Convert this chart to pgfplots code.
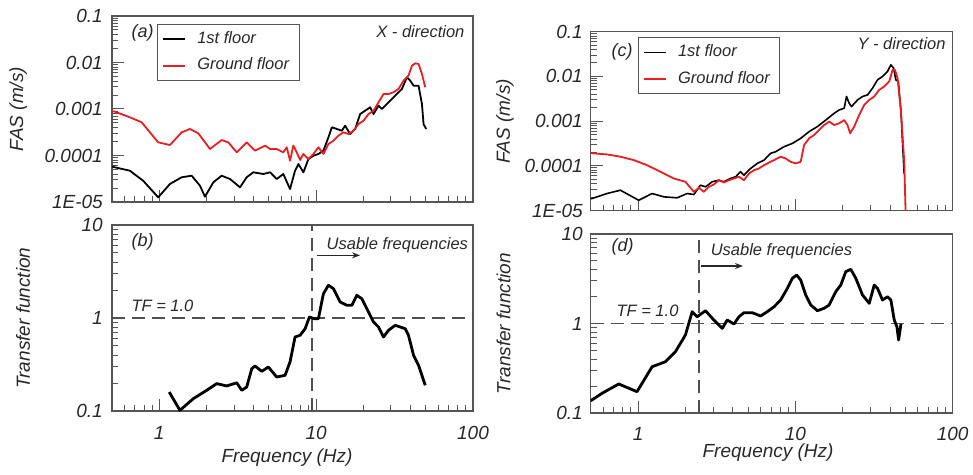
\documentclass[border=0pt]{standalone}
\usepackage{fontspec}
\setmainfont{Liberation Sans}
\usepackage{pgfplots}
\pgfplotsset{compat=1.18}
\usetikzlibrary{arrows.meta}
\definecolor{redline}{RGB}{232,30,36}
\definecolor{framegray}{RGB}{85,85,85}
\definecolor{dashgray}{RGB}{80,80,80}
\definecolor{txt}{RGB}{40,40,40}
\newcommand{\tlfont}{\fontsize{19}{22}\selectfont\itshape}
\newcommand{\anfont}{\fontsize{16.5}{19}\selectfont\itshape}
\tikzset{
  fasline/.style={line width=1.8pt, line join=round},
  tfline/.style={black, line width=2.8pt, line join=round},
  dashl/.style={dashgray, line width=1.8pt, dash pattern=on 13pt off 7pt},
}
\pgfplotsset{
  every axis/.append style={
    scale only axis,
    xmin=0.5, xmax=100,
    tick align=inside, xtick pos=left, ytick pos=left,
    major tick length=12pt, minor tick length=6pt,
    axis line style={framegray, line width=1.2pt},
    tick style={framegray, line width=1pt},
    tick label style={font=\tlfont, text=txt},
    xtick={1,10,100},
    minor xtick={0.5,0.6,0.7,0.8,0.9,2,3,4,5,6,7,8,9,20,30,40,50,60,70,80,90},
    legend style={draw=framegray, line width=1pt, font=\anfont, text=txt,
      inner xsep=5pt, inner ysep=5pt, row sep=7pt, column sep=6pt,
      nodes={text height=12pt, text depth=3.5pt, inner xsep=5pt, inner ysep=2pt}},
    legend cell align=left,
  },
  legend image code/.code={\draw[#1] (0pt,0pt) -- (22pt,0pt);},
}
\begin{document}
\begin{tikzpicture}
\path[use as bounding box] (0pt,0pt) rectangle (973pt,474pt);
% (a)
\begin{loglogaxis}[at={(112pt,272pt)}, anchor=south west, width=361pt, height=186pt,
  ymin=1e-5, ymax=0.1,
  ytick={1e-5,1e-4,1e-3,1e-2,1e-1},
  yticklabels={1E-05,0.0001,0.001,0.01,0.1},
  minor ytick={2e-5,3e-5,4e-5,5e-5,6e-5,7e-5,8e-5,9e-5,2e-4,3e-4,4e-4,5e-4,6e-4,7e-4,8e-4,9e-4,2e-3,3e-3,4e-3,5e-3,6e-3,7e-3,8e-3,9e-3,2e-2,3e-2,4e-2,5e-2,6e-2,7e-2,8e-2,9e-2},
  xticklabels={,,},
  ylabel={FAS (m/s)},
  yticklabel style={xshift=-5.7pt},
  every axis y label/.style={at={(axis description cs:-0.26,0.5)}, rotate=90, anchor=center, font=\tlfont, text=txt},
  legend style={at={(0.1247,0.957)}, anchor=north west}]
\addplot[fasline, black] coordinates {(0.5,5.8e-5) (0.5215,5.57e-5) (0.650,4.71e-5) (0.790,2.87e-5) (0.985,1.26e-5) (1.170,2.44e-5) (1.390,3.40e-5) (1.61,3.68e-5) (1.819,2.24e-5) (1.957,1.30e-5) (2.212,2.65e-5) (2.50,3.68e-5) (2.826,3.12e-5) (3.273,2.07e-5) (3.61,3.40e-5) (3.98,4.35e-5) (4.61,4.00e-5) (5.09,4.35e-5) (5.61,3.12e-5) (6.18,4.00e-5) (6.82,1.90e-5) (7.34,4.71e-5) (7.71,6.56e-5) (8.30,4.35e-5) (8.93,8.4e-5) (9.61,9.9e-5) (10.35,1.08e-4) (11.13,1.27e-4) (11.98,2.46e-4) (12.6,4.04e-4) (13.55,3.72e-4) (14.59,3.41e-4) (15.31,4.37e-4) (16.48,2.90e-4) (17.74,3.72e-4) (19.09,7.80e-4) (20.55,9.19e-4) (22.12,1.09e-3) (23.22,7.80e-4) (24.99,1.18e-3) (26.26,1.0e-3) (28.26,1.28e-3) (30.41,1.64e-3) (32.73,2.10e-3) (35.23,2.69e-3) (37.92,4.81e-3) (39.8,4.06e-3) (41.8,3.17e-3) (44.97,3.17e-3) (47.27,1.28e-3) (48.4,4.75e-4) (50.3,3.72e-4)};
\addlegendentry{1st floor}
\addplot[fasline, redline] coordinates {(0.5,9.0e-4) (0.5215,8.75e-4) (0.650,6.64e-4) (0.772,5.18e-4) (0.985,1.92e-4) (1.170,1.68e-4) (1.390,3.15e-4) (1.570,3.72e-4) (1.774,3.00e-4) (2.107,1.38e-4) (2.50,2.15e-4) (2.755,1.92e-4) (3.119,1.17e-4) (3.61,1.92e-4) (4.08,1.27e-4) (4.73,1.63e-4) (5.09,1.38e-4) (5.61,1.38e-4) (6.18,1.17e-4) (6.50,1.50e-4) (6.82,7.73e-5) (7.16,1.63e-4) (7.56,1.13e-4) (7.91,8.0e-5) (8.30,1.08e-4) (8.93,8.4e-5) (9.61,1.08e-4) (10.35,1.50e-4) (11.13,1.08e-4) (11.98,1.77e-4) (12.89,2.08e-4) (13.87,2.67e-4) (14.93,3.15e-4) (16.07,2.90e-4) (17.30,3.41e-4) (18.62,4.75e-4) (20.04,5.60e-4) (21.57,7.80e-4) (23.22,9.19e-4) (24.99,1.39e-3) (26.89,2.10e-3) (28.93,2.10e-3) (31.13,2.29e-3) (33.5,2.69e-3) (36.06,4.06e-3) (38.8,5.20e-3) (40.8,8.53e-3) (42.85,9.61e-3) (44.97,9.29e-3) (47.27,5.66e-3) (49.6,2.93e-3)};
\addlegendentry{Ground floor}
\node[anchor=west, font=\fontsize{18}{20}\selectfont\itshape, text=txt] at (rel axis cs:0.0443,0.909) {(a)};
\node[anchor=east, font=\anfont, text=txt] at (rel axis cs:0.986,0.914) {X - direction};
\end{loglogaxis}
% (b)
\begin{loglogaxis}[at={(112pt,63pt)}, anchor=south west, width=361pt, height=186pt,
  ymin=0.1, ymax=10,
  ytick={0.1,1,10}, yticklabels={0.1,1,10},
  minor ytick={0.2,0.3,0.4,0.5,0.6,0.7,0.8,0.9,2,3,4,5,6,7,8,9},
  xticklabels={1,10,100},
  ylabel={Transfer function}, xlabel={Frequency (Hz)},
  yticklabel style={xshift=-5.7pt}, xticklabel style={yshift=-12pt},
  every axis y label/.style={at={(axis description cs:-0.2465,0.5)}, rotate=90, anchor=center, font=\tlfont, text=txt},
  every axis x label/.style={at={(axis description cs:0.485,0)}, anchor=center, yshift=-47pt, font=\tlfont, text=txt}]
\addplot[dashl] coordinates {(0.5,1) (100,1)};
\addplot[dashl] coordinates {(9.4,0.1) (9.4,10)};
\addplot[tfline] coordinates {(1.158,0.160) (1.355,0.1017) (1.648,0.1356) (2.007,0.167) (2.324,0.197) (2.69,0.186) (3.119,0.201) (3.357,0.167) (3.61,0.181) (3.89,0.285) (4.08,0.305) (4.50,0.267) (4.96,0.297) (5.61,0.232) (6.34,0.242) (6.82,0.337) (7.34,0.625) (7.91,0.652) (8.51,0.767) (9.06,1.025) (9.71,0.983) (10.34,0.983) (11.13,1.82) (11.98,2.25) (12.89,2.07) (14.23,1.486) (15.70,1.37) (16.9,1.37) (18.19,1.754) (19.57,1.61) (21.57,1.16) (23.22,0.906) (24.99,0.80) (26.89,0.625) (28.93,0.738) (31.93,0.835) (36.98,0.767) (38.8,0.652) (41.8,0.397) (44.97,0.310) (49.6,0.189)};
\node[anchor=west, font=\fontsize{18}{20}\selectfont\itshape, text=txt] at (rel axis cs:0.0443,0.909) {(b)};
\node[anchor=west, font=\anfont, text=txt] at (rel axis cs:0.0443,0.568) {TF = 1.0};
\node[anchor=west, font=\anfont, text=txt] at (rel axis cs:0.585,0.891) {Usable frequencies};
\draw[-{Stealth[length=8pt,width=6pt]}, line width=1.2pt, txt] (axis cs:10.1,4.72) -- (axis cs:19.05,4.72);
\end{loglogaxis}
% (c)
\begin{loglogaxis}[at={(590.7pt,263.3pt)}, anchor=south west, width=362pt, height=179pt,
  ymin=1e-5, ymax=0.1,
  ytick={1e-5,1e-4,1e-3,1e-2,1e-1},
  yticklabels={1E-05,0.0001,0.001,0.01,0.1},
  minor ytick={2e-5,3e-5,4e-5,5e-5,6e-5,7e-5,8e-5,9e-5,2e-4,3e-4,4e-4,5e-4,6e-4,7e-4,8e-4,9e-4,2e-3,3e-3,4e-3,5e-3,6e-3,7e-3,8e-3,9e-3,2e-2,3e-2,4e-2,5e-2,6e-2,7e-2,8e-2,9e-2},
  xticklabels={,,},
  ylabel={FAS (m/s)},
  yticklabel style={xshift=-4.4pt},
  every axis y label/.style={at={(axis description cs:-0.237,0.5)}, rotate=90, anchor=center, font=\tlfont, text=txt},
  legend style={at={(0.130,0.969)}, anchor=north west}]
\addplot[fasline, black, line width=1.6pt] coordinates {(0.5,1.85e-5) (0.509,1.87e-5) (0.635,2.42e-5) (0.772,2.87e-5) (1.01,1.71e-5) (1.228,2.42e-5) (1.458,2.04e-5) (1.771,1.94e-5) (2.051,2.42e-5) (2.264,2.30e-5) (2.49,3.71e-5) (2.684,3.42e-5) (2.96,4.43e-5) (3.27,4.81e-5) (3.51,4.43e-5) (3.87,5.25e-5) (4.17,5.73e-5) (4.48,7.41e-5) (4.71,6.22e-5) (5.19,8.79e-5) (5.73,1.14e-4) (6.32,1.35e-4) (6.96,1.91e-4) (7.49,2.08e-4) (8.47,2.69e-4) (9.57,3.19e-4) (10.81,4.14e-4) (12.22,5.85e-4) (13.8,7.57e-4) (15.6,1.06e-3) (17.64,1.50e-3) (18.98,1.78e-3) (20.43,1.95e-3) (21.13,3.56e-3) (21.98,2.52e-3) (22.74,2.12e-3) (24.84,2.99e-3) (26.72,3.56e-3) (28.75,3.87e-3) (30.93,5.47e-3) (33.27,8.39e-3) (35.8,1.0e-2) (38.5,1.29e-2) (40.45,1.82e-2) (42.1,1.53e-2) (43.5,8.39e-3) (45.1,7.73e-3) (46.9,1.64e-3) (49.1,6.62e-5)};
\addlegendentry{1st floor}
\addplot[fasline, redline] coordinates {(0.5,1.95e-4) (0.522,1.91e-4) (0.635,1.81e-4) (0.772,1.61e-4) (0.939,1.35e-4) (1.141,1.04e-4) (1.387,7.41e-5) (1.688,5.25e-5) (2.0,4.43e-5) (2.264,2.64e-5) (2.436,3.25e-5) (2.62,2.64e-5) (2.82,3.42e-5) (3.03,3.85e-5) (3.27,4.81e-5) (3.51,4.27e-5) (3.78,4.81e-5) (4.07,5.25e-5) (4.38,5.73e-5) (4.71,4.81e-5) (5.07,6.79e-5) (5.46,8.05e-5) (5.87,8.79e-5) (6.32,1.04e-4) (6.96,1.24e-4) (7.32,1.35e-4) (8.06,1.61e-4) (8.67,1.47e-4) (9.33,1.24e-4) (10.04,1.14e-4) (10.81,1.24e-4) (11.36,2.92e-4) (12.22,4.14e-4) (13.15,4.91e-4) (14.16,6.35e-4) (15.24,8.22e-4) (16.40,9.8e-4) (17.64,8.22e-4) (18.98,8.97e-4) (20.43,1.06e-3) (21.43,8.22e-4) (22.3,5.36e-4) (23.64,7.57e-4) (25.45,1.38e-3) (27.39,2.31e-3) (29.47,2.99e-3) (31.7,3.56e-3) (34.1,5.01e-3) (36.7,5.97e-3) (39.5,7.73e-3) (41.5,1.41e-2) (42.9,1.41e-2) (44.6,9.16e-3) (46.9,1.64e-3) (49.2,1.24e-4) (50.4,5e-6)};
\addlegendentry{Ground floor}
\node[anchor=west, font=\fontsize{18}{20}\selectfont\itshape, text=txt] at (rel axis cs:0.0478,0.888) {(c)};
\node[anchor=east, font=\anfont, text=txt] at (rel axis cs:0.990,0.935) {Y - direction};
\end{loglogaxis}
% (d)
\begin{loglogaxis}[at={(590.7pt,61pt)}, anchor=south west, width=362pt, height=179pt,
  ymin=0.1, ymax=10,
  ytick={0.1,1,10}, yticklabels={0.1,1,10},
  minor ytick={0.2,0.3,0.4,0.5,0.6,0.7,0.8,0.9,2,3,4,5,6,7,8,9},
  xticklabels={1,10,100},
  ylabel={Transfer function}, xlabel={Frequency (Hz)},
  yticklabel style={xshift=-4.4pt}, xticklabel style={yshift=-10.6pt},
  every axis y label/.style={at={(axis description cs:-0.241,0.5)}, rotate=90, anchor=center, font=\tlfont, text=txt},
  every axis x label/.style={at={(axis description cs:0.49,0)}, anchor=center, yshift=-40pt, font=\tlfont, text=txt}]
\addplot[dashl] coordinates {(0.5,1) (100,1)};
\addplot[dashl] coordinates {(2.45,0.1) (2.45,10)};
\addplot[tfline] coordinates {(0.5,0.137) (0.590,0.166) (0.754,0.211) (0.985,0.173) (1.228,0.329) (1.493,0.374) (1.728,0.484) (2.0,0.744) (2.208,1.355) (2.375,1.19) (2.684,1.39) (3.03,1.094) (3.43,0.883) (3.69,1.094) (4.07,0.987) (4.38,1.19) (4.71,1.32) (5.32,1.32) (6.01,1.213) (6.63,1.355) (7.32,1.54) (8.06,1.83) (8.89,2.47) (9.57,3.20) (10.19,3.48) (10.81,3.06) (11.63,2.08) (12.52,1.61) (13.8,1.39) (15.24,1.48) (16.4,1.61) (18.06,2.27) (19.44,2.69) (20.9,3.79) (22.5,4.03) (24.21,3.20) (26.72,2.08) (29.47,1.68) (31.7,2.69) (33.27,2.47) (35.8,1.83) (38.5,1.99) (40.45,1.83) (42.5,1.094) (44.2,0.92) (45.3,0.654) (46.9,0.987)};
\node[anchor=west, font=\fontsize{18}{20}\selectfont\itshape, text=txt] at (rel axis cs:0.0478,0.929) {(d)};
\node[anchor=west, font=\anfont, text=txt] at (rel axis cs:0.0616,0.570) {TF = 1.0};
\node[anchor=west, font=\anfont, text=txt] at (rel axis cs:0.322,0.901) {Usable frequencies};
\draw[-{Stealth[length=8pt,width=6pt]}, line width=1.2pt, txt] (axis cs:2.53,4.39) -- (axis cs:4.65,4.39);
\end{loglogaxis}
\end{tikzpicture}
\end{document}
